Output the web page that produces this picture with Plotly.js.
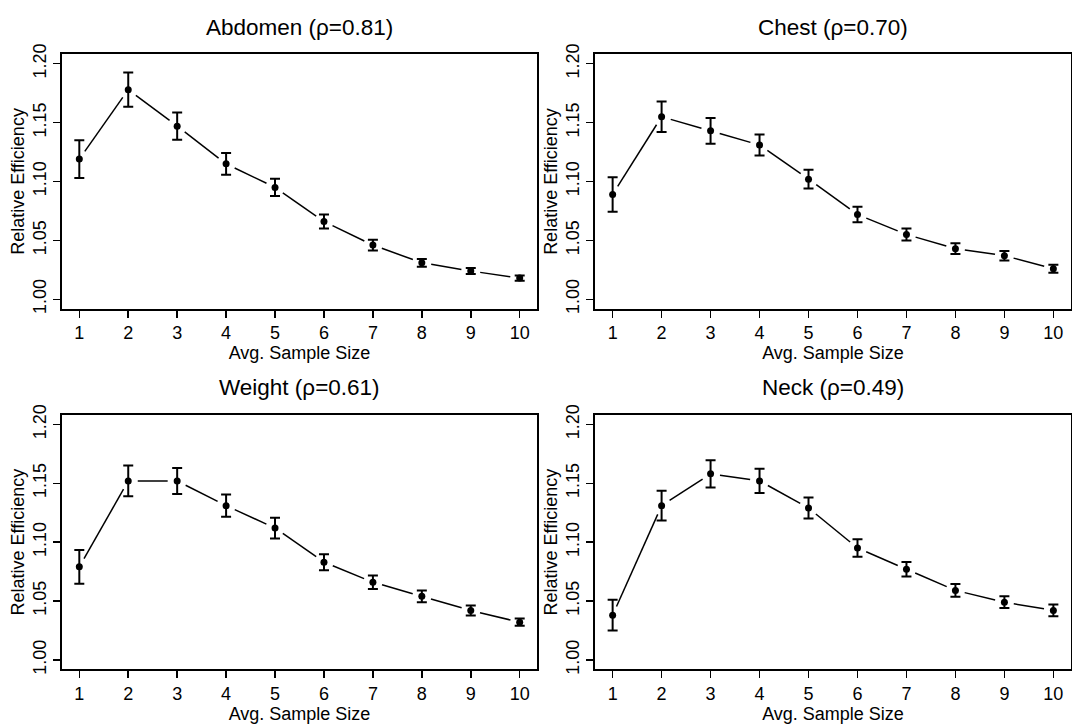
<!DOCTYPE html>
<html>
<head>
<meta charset="utf-8">
<script src="https://cdn.plot.ly/plotly-3.0.1.min.js"></script>
<style>html,body{margin:0;padding:0;background:#fff;}#chart{width:1072px;height:726px;}</style>
</head>
<body>
<div id="chart"></div>
<script>
// ---- data ----
const sampleSize = [1, 2, 3, 4, 5, 6, 7, 8, 9, 10];
const panelNames = ["Abdomen", "Chest", "Weight", "Neck"];
const panelRho = ["0.81", "0.70", "0.61", "0.49"];

const abdomenEff = [1.119, 1.178, 1.147, 1.115, 1.095, 1.066, 1.046, 1.031, 1.024, 1.018];
const abdomenErr = [0.016, 0.0145, 0.0115, 0.0093, 0.0073, 0.0060, 0.0045, 0.0033, 0.0025, 0.0022];

const chestEff = [1.089, 1.155, 1.143, 1.131, 1.102, 1.072, 1.055, 1.043, 1.037, 1.026];
const chestErr = [0.0147, 0.0130, 0.0110, 0.0090, 0.0080, 0.0065, 0.0052, 0.0045, 0.0040, 0.0034];

const weightEff = [1.079, 1.152, 1.152, 1.131, 1.112, 1.083, 1.066, 1.054, 1.042, 1.032];
const weightErr = [0.0143, 0.0130, 0.0110, 0.0095, 0.0088, 0.0068, 0.0057, 0.0050, 0.0042, 0.0031];

const neckEff = [1.038, 1.131, 1.158, 1.152, 1.129, 1.095, 1.077, 1.059, 1.049, 1.042];
const neckErr = [0.0130, 0.0127, 0.0115, 0.0103, 0.0090, 0.0074, 0.0062, 0.0054, 0.0050, 0.0050];

const yTickVals = [1.00, 1.05, 1.10, 1.15, 1.20];
const xTitle = "Avg. Sample Size";
const yTitle = "Relative Efficiency";

// ---- layout geometry ----
const W = 1072, H = 726;
const colPx = [[61.7, 537.3], [595, 1071]];
const rowPx = [[54.3, 308.7], [415, 669.3]];
const xRange = [0.64, 10.36];
const yRange = [0.992, 1.208];
const FONT = "Liberation Sans, Arial, Helvetica, sans-serif";

const series = [
  {eff: abdomenEff, err: abdomenErr},
  {eff: chestEff, err: chestErr},
  {eff: weightEff, err: weightErr},
  {eff: neckEff, err: neckErr}
];

// R type="b" style: connecting segments stop short of each point
function gappedSegments(xs, ys, sx, sy, gap) {
  const gx = [], gy = [];
  for (let i = 0; i < xs.length - 1; i++) {
    const dx = (xs[i + 1] - xs[i]) * sx;
    const dy = (ys[i + 1] - ys[i]) * sy;
    const len = Math.hypot(dx, dy);
    if (len <= 2 * gap) continue;
    const t = gap / len;
    gx.push(xs[i] + t * (xs[i + 1] - xs[i]), xs[i + 1] - t * (xs[i + 1] - xs[i]), null);
    gy.push(ys[i] + t * (ys[i + 1] - ys[i]), ys[i + 1] - t * (ys[i + 1] - ys[i]), null);
  }
  return {x: gx, y: gy};
}

const traces = [];
const layout = {
  width: W, height: H,
  margin: {l: 0, r: 0, t: 0, b: 0},
  paper_bgcolor: "#fff", plot_bgcolor: "#fff",
  showlegend: false,
  font: {family: FONT, color: "#000", size: 18},
  annotations: []
};

series.forEach((s, k) => {
  const r = Math.floor(k / 2), c = k % 2;
  const suffix = k === 0 ? "" : String(k + 1);
  const xa = "x" + suffix, ya = "y" + suffix;
  const cx = colPx[c], ry = rowPx[r];
  const sx = (cx[1] - cx[0]) / (xRange[1] - xRange[0]);
  const sy = (ry[1] - ry[0]) / (yRange[1] - yRange[0]);
  const seg = gappedSegments(sampleSize, s.eff, sx, sy, 9.5);

  traces.push({
    x: seg.x, y: seg.y, xaxis: xa, yaxis: ya,
    type: "scatter", mode: "lines", connectgaps: false,
    line: {color: "#000", width: 1.5}, hoverinfo: "skip"
  });
  traces.push({
    x: sampleSize, y: s.eff, xaxis: xa, yaxis: ya,
    type: "scatter", mode: "markers",
    marker: {color: "#000", size: 7},
    error_y: {type: "data", array: s.err, visible: true, color: "#000", thickness: 2, width: 5}
  });

  const axCommon = {
    showline: true, mirror: true, linecolor: "#000", linewidth: 2,
    showgrid: false, zeroline: false,
    ticks: "outside", ticklen: 7, tickwidth: 1.5, tickcolor: "#000",
    tickfont: {family: FONT, size: 18, color: "#000"}
  };
  layout["xaxis" + suffix] = Object.assign({}, axCommon, {
    domain: [cx[0] / W, cx[1] / W],
    anchor: ya, range: xRange,
    tickmode: "array", tickvals: sampleSize, ticktext: sampleSize.map(String),
    title: {text: xTitle, font: {family: FONT, size: 18, color: "#000"}, standoff: 1}
  });
  layout["yaxis" + suffix] = Object.assign({}, axCommon, {
    domain: [1 - ry[1] / H, 1 - ry[0] / H],
    anchor: xa, range: yRange,
    tickmode: "array", tickvals: yTickVals, ticktext: yTickVals.map(v => v.toFixed(2)),
    tickangle: -90,
    title: {text: yTitle, font: {family: FONT, size: 18, color: "#000"}, standoff: 0}
  });
  layout.annotations.push({
    text: panelNames[k] + " (\u03C1=" + panelRho[k] + ")",
    xref: "paper", yref: "paper",
    x: (cx[0] + cx[1]) / 2 / W, y: 1 - (ry[0] - 27) / H,
    xanchor: "center", yanchor: "middle", showarrow: false,
    font: {family: FONT, size: 22.5, color: "#000"}
  });
});

Plotly.newPlot("chart", traces, layout, {staticPlot: true, displayModeBar: false});
</script>
</body>
</html>
